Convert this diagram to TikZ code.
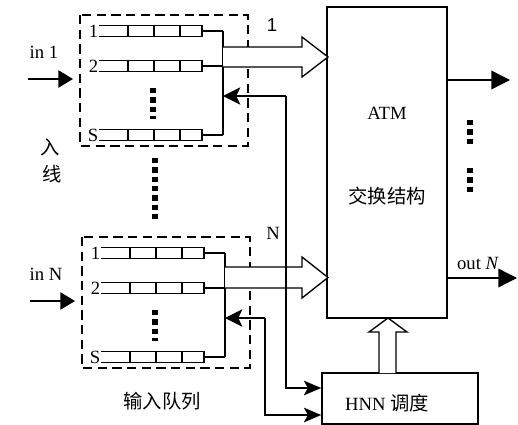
\documentclass[tikz,border=0pt]{standalone}
\usepackage{fontspec}
\setmainfont{Liberation Serif}
\newfontfamily\cjk{Noto Sans CJK SC}
\newfontfamily\arialfont{Liberation Sans}
\usetikzlibrary{arrows.meta,positioning,calc}
\newcommand{\txtsize}{\fontsize{14}{16}\selectfont}
\newcommand{\cjksize}{\fontsize{14.5}{17}\selectfont}
\tikzset{
  qline/.style={line width=1pt},
  qbox/.style={draw, line width=1.5pt, dash pattern=on 7pt off 4pt},
  inarr/.style={-{Triangle[length=11pt,width=13pt]}, line width=1pt},
  outarr/.style={-{Triangle[length=14pt,width=14pt]}, line width=1pt},
  backarr/.style={-{Stealth[length=13pt,width=13pt,inset=3pt]}, line width=1pt},
  hnnarr/.style={-{Stealth[length=13pt,width=11pt,inset=3pt]}, line width=1pt},
  hollow/.style={draw, line width=1pt, fill=white},
  dotcol/.style={line width=4pt, dash pattern=on 4pt off 3pt},
  blk/.style={draw, line width=1.2pt, inner sep=0pt},
  lbl/.style={font=\txtsize, inner sep=0pt},
  cjklbl/.style={font=\cjk\cjksize, inner sep=0pt},
}

\begin{document}
\begin{tikzpicture}[x=0.75pt, y=-0.75pt]
    \useasboundingbox (0,0) rectangle (518,425);
    % input queues, line 1 and line N
    \foreach \gx/\gy/\gn in {0/0/1, 2/222/N} {
      \begin{scope}[shift={(\gx,\gy)}]
        \draw[qbox] (80,15) rectangle (248,146);
        \foreach \ry/\rl in {31/1, 66/2, 135/S} {
          \node[lbl, anchor=east] (q\gn\rl) at (98.5,\ry) {\rl};
          \draw[qline] (99,\ry-5.5) -- (202,\ry-5.5) -- (202,\ry+5.5) -- (99,\ry+5.5);
          \foreach \cx in {128,154,180} \draw[qline] (\cx,\ry-5.5) -- (\cx,\ry+5.5);
          \draw[qline] (202,\ry) -- (223,\ry);
        }
        \draw[qline] (223,31) -- (223,135);
        \draw[dotcol] (153,88) -- (153,119);
        \coordinate (bus\gn) at (223,96);
        \node[lbl] (in\gn) at (44,52) {in \gn};
        \draw[inarr] (28,79) -- (73,79);
      \end{scope}
    }
    \draw[dotcol] (155,158) -- (155,223);
    % switch fabric and scheduler
    \node[blk, minimum width=90pt, minimum height=233pt] (atm) at (387,162.5) {};
    \node[lbl] at (387,113) {ATM};
    \node[cjklbl] at (387,196) {交换结构};
    \node[blk, minimum width=117pt, minimum height=38pt] (hnn) at (400,398.5) {};
    \node[lbl] at (387,403) {HNN {\cjk\cjksize 调度}};
    % wide data paths
    \draw[hollow] (223,47) -- (302,47) -- (302,37) -- (328,57) -- (302,77) -- (302,67) -- (223,67);
    \draw[hollow] (225,267) -- (302,267) -- (302,257) -- (328,277.5) -- (302,298) -- (302,288) -- (225,288);
    \draw[hollow] (379,373) -- (379,332) -- (369,332) -- (388,318) -- (407,332) -- (396,332) -- (396,373);
    \node[font=\arialfont\txtsize, inner sep=0pt] at (272,25) {1};
    \node[lbl] at (273,233) {N};
    % feedback to queues and scheduler
    \draw[backarr] (286,96) -- (bus1);
    \draw[hnnarr] (286,96) |- (hnn.west |- 0,388);
    \draw[backarr] (265,318) -- (busN);
    \draw[hnnarr] (265,318) |- (hnn.west |- 0,415);
    % outputs
    \draw[outarr] (atm.east |- 0,80) -- (510,80);
    \draw[outarr] (atm.east |- 0,278) -- (517,278);
    \node[lbl] at (478,263) {out \textit{N}};
    \draw[dotcol] (470,120) -- (470,147);
    \draw[dotcol] (470,168) -- (470,195);
    % side labels
    \node[cjklbl] at (50,147) {入};
    \node[cjklbl] at (52,174) {线};
    \node[cjklbl] at (162,401) {输入队列};
  \end{tikzpicture}
\end{document}
